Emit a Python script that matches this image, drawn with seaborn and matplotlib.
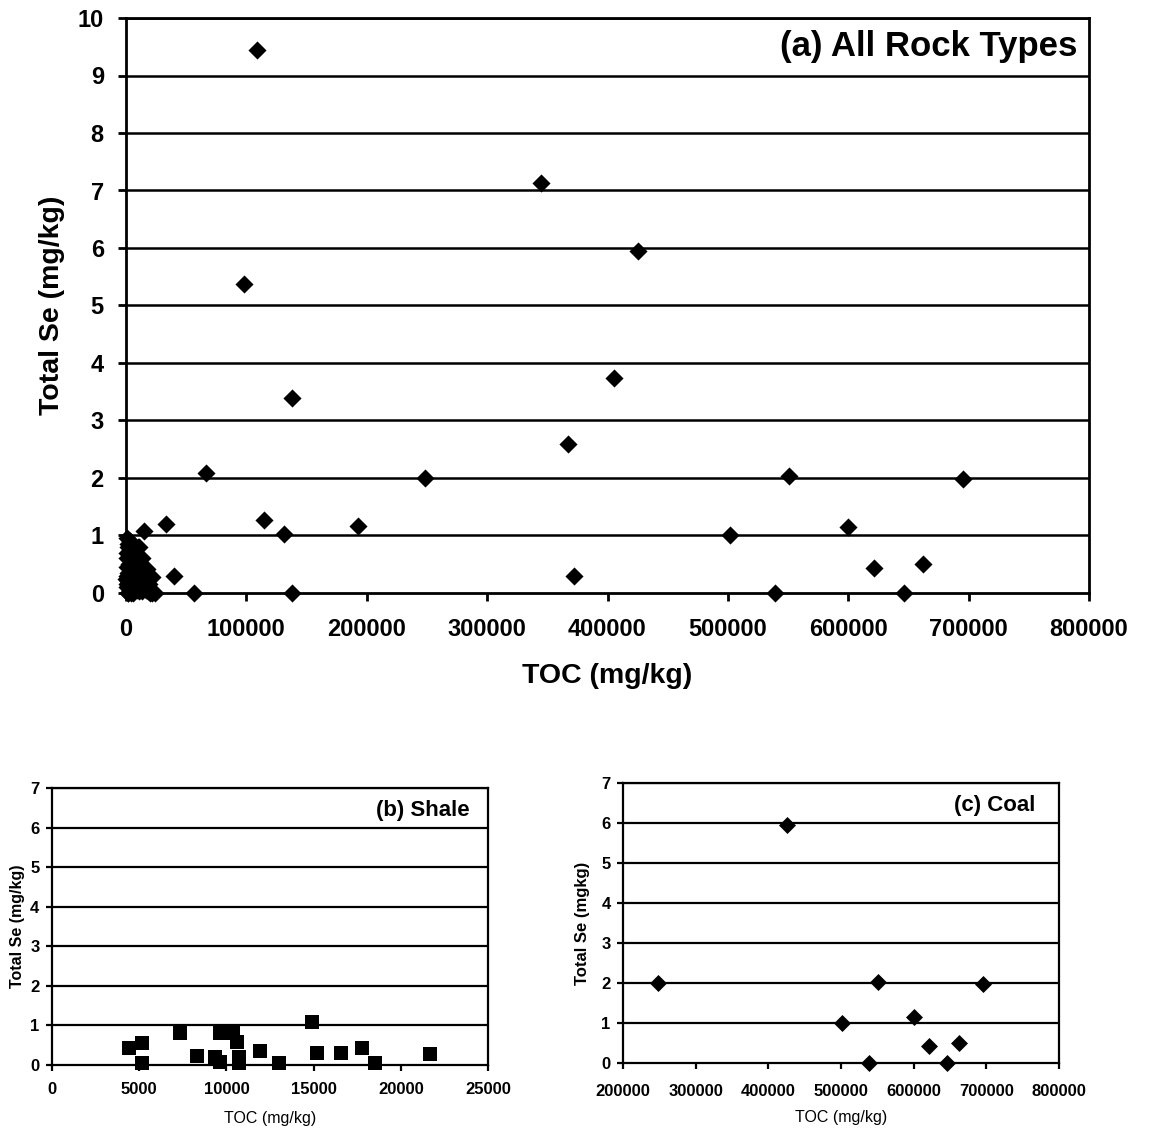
import matplotlib
matplotlib.use("Agg")
import matplotlib.pyplot as plt
import seaborn as sns
import pandas as pd

# ---------------- data ----------------
# Coal samples
coal_toc = [248000, 425000, 502000, 539000, 551000, 600000, 621000, 646000, 662000, 695000]
coal_se = [2.00, 5.94, 1.00, 0.00, 2.03, 1.14, 0.43, 0.00, 0.50, 1.98]

# Shale samples
shale_toc = [4400, 5150, 5150, 7350, 8300, 9350, 9650, 9650, 10400, 10600, 10700, 10700,
             11900, 13000, 14900, 15200, 16550, 17750, 18500, 21700]
shale_se = [0.42, 0.55, 0.04, 0.80, 0.23, 0.21, 0.80, 0.08, 0.80, 0.59, 0.21, 0.04,
            0.35, 0.04, 1.08, 0.31, 0.31, 0.42, 0.04, 0.28]

# Other rock types
other_toc = [108800, 344700, 98000, 405400, 137900, 367200, 66500, 33200, 114600, 192700,
             131300, 39900, 56500, 137900, 372200,
             1000, 2000, 500, 3000, 1500, 4000, 2500, 500, 6000, 3500, 1000, 7000, 2000,
             500, 3000, 1500, 8000, 6000, 12000, 20000, 16000, 2000, 4500, 200, 9000,
             11000, 13000, 8000, 12000, 3000, 5000, 7000, 10000, 15000, 18000,
             1500, 2500, 3500, 4500, 5500, 6500, 7500, 2000, 4000, 6000, 8000, 10000,
             12000, 14000, 1000, 3000, 5000, 9000, 13000, 17000, 22000, 24000, 19000,
             500, 2500, 4500]
other_se = [9.44, 7.13, 5.37, 3.74, 3.39, 2.59, 2.09, 1.20, 1.27, 1.17,
            1.03, 0.30, 0.00, 0.00, 0.30,
            0.95, 0.85, 0.70, 0.75, 0.60, 0.65, 0.50, 0.45, 0.50, 0.35, 0.30, 0.30, 0.20,
            0.10, 0.05, 0.00, 0.12, 0.00, 0.15, 0.00, 0.10, 0.00, 0.15, 0.25, 0.45,
            0.50, 0.60, 0.65, 0.05, 0.90, 0.40, 0.55, 0.10, 0.20, 0.25,
            0.80, 0.70, 0.60, 0.55, 0.45, 0.40, 0.40, 0.35, 0.30, 0.25, 0.35, 0.30,
            0.25, 0.15, 0.15, 0.20, 0.10, 0.05, 0.10, 0.05, 0.00, 0.00, 0.15,
            0.60, 0.10, 0.00]

all_df = pd.DataFrame({"TOC": other_toc + shale_toc + coal_toc,
                       "Se": other_se + shale_se + coal_se})
shale_df = pd.DataFrame({"TOC": shale_toc, "Se": shale_se})
coal_df = pd.DataFrame({"TOC": coal_toc, "Se": coal_se})

a_xticks = [0, 100000, 200000, 300000, 400000, 500000, 600000, 700000, 800000]
b_xticks = [0, 5000, 10000, 15000, 20000, 25000]
c_xticks = [200000, 300000, 400000, 500000, 600000, 700000, 800000]

# ---------------- style ----------------
sns.set_theme(style="white")
plt.rcParams["font.family"] = ["Liberation Sans", "DejaVu Sans"]
plt.rcParams["text.color"] = "black"
plt.rcParams["axes.labelcolor"] = "black"
plt.rcParams["xtick.color"] = "black"
plt.rcParams["ytick.color"] = "black"

W, H = 1157, 1132
fig = plt.figure(figsize=(W / 100, H / 100), dpi=100)

def px_axes(x0, y0, x1, y1):
    return fig.add_axes([x0 / W, 1 - y1 / H, (x1 - x0) / W, (y1 - y0) / H])

def style_axes(ax, ymax, xlim, xticks, lw_grid, lw_spine, ticklen):
    ax.set_xlim(*xlim)
    ax.set_ylim(0, ymax)
    ax.set_xticks(xticks)
    ax.set_yticks(range(0, ymax + 1))
    ax.set_xticklabels([str(t) for t in xticks])
    ax.set_yticklabels([str(t) for t in range(0, ymax + 1)])
    for y in range(1, ymax + 1):
        ax.axhline(y, color="black", lw=lw_grid, zorder=1)
    for s in ax.spines.values():
        s.set_color("black")
        s.set_linewidth(lw_spine)
        s.set_visible(True)
    ax.tick_params(axis="both", which="major", direction="out", length=ticklen,
                   width=lw_spine, color="black", labelcolor="black",
                   bottom=True, left=True, top=False, right=False)
    ax.set_axisbelow(True)

# ---------------- panel (a) ----------------
ax_a = px_axes(126, 18, 1089, 593)
sns.scatterplot(data=all_df, x="TOC", y="Se", ax=ax_a, marker="D", s=85,
                color="black", edgecolor="black", linewidth=0, zorder=3, clip_on=False)
style_axes(ax_a, 10, (0, 800000), a_xticks, 1.8, 2.0, 6)
ax_a.tick_params(labelsize=17)
ax_a.tick_params(axis="x", pad=12)
ax_a.tick_params(axis="y", pad=10)
for lab in ax_a.get_xticklabels() + ax_a.get_yticklabels():
    lab.set_fontweight("bold")
ax_a.set_xlabel("TOC (mg/kg)", fontsize=20.5, fontweight="bold", labelpad=16)
ax_a.set_ylabel("Total Se (mg/kg)", fontsize=20.5, fontweight="bold", labelpad=9)
ax_a.text(0.9875, 0.951, "(a) All Rock Types", transform=ax_a.transAxes,
          ha="right", va="center", fontsize=25, fontweight="bold", zorder=5)

# ---------------- panel (b) ----------------
ax_b = px_axes(52, 788, 488, 1065)
sns.scatterplot(data=shale_df, x="TOC", y="Se", ax=ax_b, marker="s", s=110,
                color="black", edgecolor="black", linewidth=0, zorder=3, clip_on=False)
style_axes(ax_b, 7, (0, 25000), b_xticks, 1.6, 1.6, 4)
ax_b.tick_params(labelsize=12)
ax_b.tick_params(axis="x", pad=8)
ax_b.tick_params(axis="y", pad=5)
for lab in ax_b.get_xticklabels() + ax_b.get_yticklabels():
    lab.set_fontweight("bold")
ax_b.set_xlabel("TOC (mg/kg)", fontsize=11.5, labelpad=10)
ax_b.set_ylabel("Total Se (mg/kg)", fontsize=11.5, fontweight="bold", labelpad=4)
ax_b.text(0.959, 0.92, "(b) Shale", transform=ax_b.transAxes, ha="right", va="center",
          fontsize=16, fontweight="bold", zorder=5)

# ---------------- panel (c) ----------------
ax_c = px_axes(623, 783, 1059, 1063)
sns.scatterplot(data=coal_df, x="TOC", y="Se", ax=ax_c, marker="D", s=75,
                color="black", edgecolor="black", linewidth=0, zorder=3, clip_on=False)
style_axes(ax_c, 7, (200000, 800000), c_xticks, 1.6, 1.6, 4)
ax_c.tick_params(labelsize=12)
ax_c.tick_params(axis="x", pad=11)
ax_c.tick_params(axis="y", pad=5)
for lab in ax_c.get_xticklabels() + ax_c.get_yticklabels():
    lab.set_fontweight("bold")
ax_c.set_xlabel("TOC (mg/kg)", fontsize=11.5, labelpad=8)
ax_c.set_ylabel("Total Se (mgkg)", fontsize=12, fontweight="bold", labelpad=8)
ax_c.text(0.945, 0.92, "(c) Coal", transform=ax_c.transAxes, ha="right", va="center",
          fontsize=16, fontweight="bold", zorder=5)

fig.savefig("out.png", dpi=100, facecolor="white")
